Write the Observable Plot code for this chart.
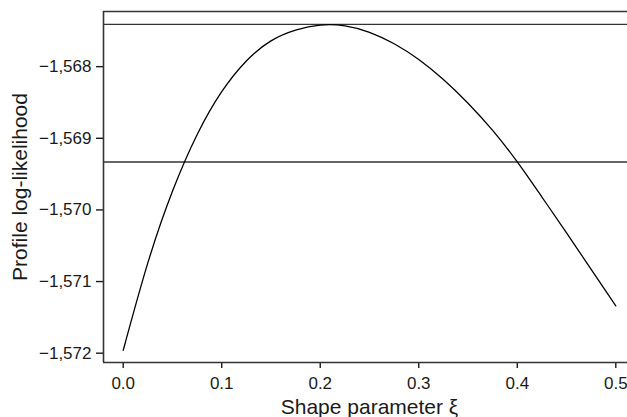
<!DOCTYPE html>
<html>
<head>
<meta charset="utf-8">
<script src="https://cdn.jsdelivr.net/npm/d3@7"></script>
<script src="https://cdn.jsdelivr.net/npm/@observablehq/plot@0.6"></script>
<style>
  html, body { margin: 0; padding: 0; background: #fff; }
  #chart svg { overflow: hidden; max-width: none !important; }
  #chart svg g[aria-label="x-axis tick label"],
  #chart svg g[aria-label="y-axis tick label"] { font-size: 17px; }
  #chart svg g[aria-label="x-axis label"],
  #chart svg g[aria-label="y-axis label"] { font-size: 21px; }
</style>
</head>
<body>
<div id="chart"></div>
<script>
// Shape parameter xi and profile log-likelihood
const xi = [0.0, 0.025, 0.05, 0.075, 0.1, 0.125, 0.15, 0.175, 0.2, 0.225, 0.25, 0.275, 0.3, 0.325, 0.35, 0.375, 0.4, 0.425, 0.45, 0.475, 0.5];
const loglik = [-1571.96, -1570.74, -1569.74, -1568.95, -1568.35, -1567.92, -1567.64, -1567.49, -1567.42, -1567.43, -1567.52, -1567.68, -1567.90, -1568.18, -1568.51, -1568.89, -1569.33, -1569.82, -1570.32, -1570.83, -1571.34];
// Horizontal reference lines: maximum and max - 1.92 (95% CI cut-off)
const refLines = [-1567.41, -1569.33];
// Axis ticks
const xTicks = [0.0, 0.1, 0.2, 0.3, 0.4, 0.5];
const yTicks = [-1572, -1571, -1570, -1569, -1568];
const xDomain = [-0.02, 0.52];
const yDomain = [-1572.13, -1567.23];

const data = xi.map((x, i) => ({x, y: loglik[i]}));
const ink = "#1a1a1a";

const chart = Plot.plot({
  width: 627,
  height: 417,
  marginLeft: 103,
  marginRight: -8,
  marginTop: 11,
  marginBottom: 55,
  style: {fontFamily: "'Liberation Sans', Arial, Helvetica, sans-serif", fontSize: "17px", color: ink, background: "#fff"},
  x: {domain: xDomain},
  y: {domain: yDomain},
  marks: [
    Plot.axisX({ticks: xTicks, tickFormat: d3.format(".1f"), tickSize: 6, tickPadding: 8, strokeWidth: 1.4,
      label: "Shape parameter ξ", labelAnchor: "center", labelOffset: 51, labelArrow: "none"}),
    Plot.axisY({ticks: yTicks, tickFormat: d3.format(","), tickSize: 7, tickPadding: 5, strokeWidth: 1.4,
      label: "Profile log-likelihood", labelAnchor: "center", labelOffset: 91, labelArrow: "none"}),
    Plot.ruleX([xDomain[0]], {stroke: "#333", strokeWidth: 1.6}),
    Plot.ruleY([yDomain[0], yDomain[1]], {stroke: "#333", strokeWidth: 1.6}),
    Plot.ruleY(refLines, {stroke: "#333", strokeWidth: 1.4}),
    Plot.line(data, {x: "x", y: "y", curve: "natural", stroke: "#000", strokeWidth: 1.3})
  ]
});
document.getElementById("chart").appendChild(chart);
</script>
</body>
</html>
